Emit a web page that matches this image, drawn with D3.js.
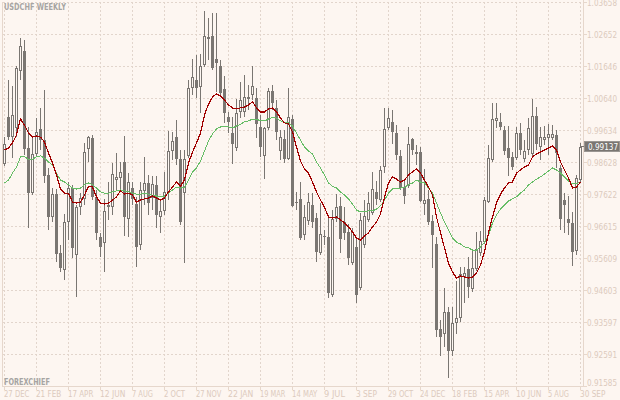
<!DOCTYPE html>
<html><head><meta charset="utf-8">
<script src="https://cdn.jsdelivr.net/npm/d3@7"></script>
<style>html,body{margin:0;padding:0;background:#fdf6f1;}svg{display:block;}</style>
</head><body>
<svg id="c" width="620" height="400"></svg>
<script>
// Weekly USDCHF candles, 27 Dec 2015 .. 30 Sep 2018
const opens = [0.9860,1.0007,0.9944,0.9973,1.0152,1.0215,0.9910,0.9768,0.9891,0.9970,
0.9935,0.9825,0.9693,0.9765,0.9580,0.9526,0.9677,0.9784,0.9574,0.9724,
0.9750,0.9907,0.9941,0.9756,0.9630,0.9611,0.9731,0.9724,0.9809,0.9816,
0.9866,0.9687,0.9784,0.9734,0.9605,0.9775,0.9800,0.9753,0.9794,0.9693,
0.9712,0.9772,0.9900,0.9944,0.9875,0.9768,0.9885,1.0099,1.0124,1.0102,
1.0171,1.0259,1.0262,1.0190,1.0168,1.0095,1.0007,0.9957,0.9910,1.0023,
1.0023,1.0064,1.0077,1.0067,0.9976,0.9885,0.9973,1.0089,1.0036,0.9900,
0.9938,0.9875,1.0001,0.9740,0.9750,0.9636,0.9680,0.9731,0.9690,0.9580,
0.9633,0.9630,0.9448,0.9687,0.9728,0.9677,0.9646,0.9548,0.9599,0.9470,
0.9605,0.9684,0.9706,0.9772,0.9746,0.9850,0.9973,0.9992,0.9957,0.9885,
0.9787,0.9790,0.9938,0.9897,0.9897,0.9734,0.9750,0.9680,0.9608,0.9341,
0.9325,0.9394,0.9272,0.9360,0.9375,0.9504,0.9530,0.9467,0.9530,0.9580,
0.9614,0.9740,0.9872,0.9995,0.9992,0.9967,0.9910,0.9882,0.9878,0.9957,
0.9875,0.9904,0.9891,1.0011,0.9913,0.9935,0.9941,0.9941,0.9951,0.9847,
0.9746,0.9687,0.9674,0.9586,0.9809];
const highs = [0.9945,1.0124,1.0105,1.0168,1.0256,1.0249,0.9976,0.9944,1.0004,1.0036,
1.0092,0.9847,0.9784,0.9781,0.9605,0.9702,0.9803,0.9794,0.9731,0.9768,
0.9926,0.9948,0.9951,0.9778,0.9643,0.9750,0.9803,0.9863,0.9894,0.9866,
0.9948,0.9831,0.9803,0.9756,0.9803,0.9882,0.9825,0.9822,0.9822,0.9746,
0.9835,0.9963,0.9960,0.9998,0.9904,0.9904,1.0124,1.0190,1.0202,1.0205,
1.0341,1.0319,1.0334,1.0334,1.0187,1.0136,1.0023,1.0007,1.0064,1.0117,
1.0139,1.0108,1.0168,1.0099,1.0014,0.9976,1.0099,1.0108,1.0061,0.9967,
0.9967,1.0099,1.0014,0.9772,0.9803,0.9731,0.9768,0.9768,0.9706,0.9737,
0.9652,0.9693,0.9715,0.9765,0.9756,0.9724,0.9671,0.9658,0.9627,0.9706,
0.9746,0.9772,0.9835,0.9806,0.9853,1.0036,1.0036,1.0029,0.9982,0.9904,
0.9809,0.9976,0.9941,0.9919,0.9913,0.9844,0.9778,0.9699,0.9630,0.9369,
0.9470,0.9410,0.9410,0.9492,0.9536,0.9536,0.9567,0.9589,0.9646,0.9649,
0.9756,0.9919,1.0051,1.0051,1.0020,0.9979,0.9979,0.9897,0.9976,0.9989,
0.9935,1.0004,1.0064,1.0039,0.9976,0.9979,0.9985,0.9982,0.9967,0.9856,
0.9768,0.9759,0.9709,0.9825,0.9926];
const lows = [0.9853,0.9935,0.9878,0.9944,1.0124,0.9888,0.9658,0.9762,0.9882,0.9904,
0.9800,0.9652,0.9677,0.9552,0.9520,0.9495,0.9621,0.9564,0.9442,0.9699,
0.9731,0.9866,0.9746,0.9621,0.9567,0.9520,0.9684,0.9699,0.9778,0.9778,
0.9633,0.9630,0.9731,0.9536,0.9589,0.9731,0.9699,0.9715,0.9658,0.9643,
0.9699,0.9746,0.9872,0.9856,0.9668,0.9548,0.9878,1.0077,1.0067,1.0020,
1.0165,1.0187,1.0155,1.0086,1.0077,0.9989,0.9957,0.9860,0.9900,1.0004,
1.0007,1.0029,1.0061,0.9941,0.9882,0.9812,0.9967,1.0029,0.9935,0.9872,
0.9863,0.9872,0.9724,0.9715,0.9621,0.9621,0.9668,0.9658,0.9552,0.9574,
0.9605,0.9438,0.9442,0.9677,0.9580,0.9621,0.9542,0.9542,0.9423,0.9464,
0.9596,0.9677,0.9699,0.9731,0.9740,0.9831,0.9967,0.9923,0.9872,0.9778,
0.9734,0.9784,0.9888,0.9856,0.9740,0.9699,0.9668,0.9533,0.9316,0.9256,
0.9284,0.9187,0.9256,0.9325,0.9363,0.9423,0.9438,0.9457,0.9523,0.9570,
0.9608,0.9737,0.9866,0.9973,0.9967,0.9888,0.9822,0.9841,0.9872,0.9888,
0.9866,0.9888,0.9885,0.9904,0.9872,0.9919,0.9888,0.9935,0.9847,0.9652,
0.9643,0.9636,0.9539,0.9574,0.9803];
const closes = [0.9923,0.9944,1.0014,1.0161,1.0231,0.9907,0.9768,0.9891,0.9960,0.9935,
0.9822,0.9693,0.9765,0.9577,0.9533,0.9677,0.9784,0.9596,0.9724,0.9753,
0.9897,0.9944,0.9756,0.9643,0.9599,0.9712,0.9724,0.9828,0.9819,0.9835,
0.9693,0.9803,0.9750,0.9599,0.9778,0.9800,0.9737,0.9797,0.9699,0.9712,
0.9772,0.9900,0.9932,0.9875,0.9677,0.9875,1.0099,1.0133,1.0099,1.0168,
1.0262,1.0253,1.0161,1.0177,1.0083,1.0020,0.9992,0.9923,1.0020,1.0061,
1.0070,1.0070,1.0105,0.9985,0.9913,0.9973,1.0089,1.0051,0.9960,0.9944,
0.9875,1.0007,0.9728,0.9737,0.9627,0.9693,0.9740,0.9677,0.9583,0.9640,
0.9630,0.9454,0.9687,0.9724,0.9624,0.9643,0.9564,0.9646,0.9448,0.9684,
0.9696,0.9737,0.9781,0.9750,0.9841,0.9970,1.0004,0.9960,0.9888,0.9784,
0.9759,0.9923,0.9904,0.9891,0.9743,0.9746,0.9677,0.9636,0.9338,0.9316,
0.9394,0.9272,0.9360,0.9375,0.9514,0.9517,0.9473,0.9533,0.9592,0.9618,
0.9746,0.9878,1.0001,1.0004,0.9976,0.9900,0.9878,0.9850,0.9957,0.9904,
0.9900,0.9973,1.0011,0.9923,0.9944,0.9944,0.9954,0.9954,0.9894,0.9687,
0.9731,0.9674,0.9583,0.9816,0.99137];
// Moving averages as drawn on the chart (fast = red, slow = green)
const maFast = [0.9904,0.9910,0.9926,0.9951,1.0001,0.9982,0.9957,0.9944,0.9948,0.9944,
0.9929,0.9894,0.9863,0.9825,0.9781,0.9768,0.9768,0.9740,0.9737,0.9740,
0.9762,0.9790,0.9787,0.9756,0.9737,0.9734,0.9737,0.9746,0.9756,0.9775,
0.9765,0.9768,0.9762,0.9740,0.9746,0.9750,0.9753,0.9759,0.9753,0.9746,
0.9753,0.9772,0.9787,0.9803,0.9790,0.9809,0.9863,0.9897,0.9926,0.9957,
1.0014,1.0048,1.0070,1.0080,1.0073,1.0061,1.0045,1.0036,1.0033,1.0036,
1.0039,1.0045,1.0055,1.0036,1.0023,1.0023,1.0033,1.0036,1.0023,1.0004,
0.9989,0.9985,0.9960,0.9913,0.9869,0.9844,0.9831,0.9803,0.9772,0.9746,
0.9724,0.9693,0.9690,0.9693,0.9684,0.9674,0.9662,0.9646,0.9627,0.9621,
0.9633,0.9643,0.9662,0.9677,0.9702,0.9756,0.9800,0.9819,0.9812,0.9803,
0.9809,0.9825,0.9835,0.9844,0.9831,0.9809,0.9787,0.9762,0.9693,0.9643,
0.9596,0.9548,0.9520,0.9501,0.9508,0.9504,0.9501,0.9504,0.9517,0.9542,
0.9583,0.9643,0.9693,0.9737,0.9765,0.9784,0.9800,0.9803,0.9831,0.9841,
0.9850,0.9856,0.9882,0.9891,0.9897,0.9904,0.9910,0.9916,0.9904,0.9866,
0.9841,0.9816,0.9784,0.9787,0.9803];
const maSlow = [0.9800,0.9809,0.9831,0.9850,0.9882,0.9882,0.9875,0.9875,0.9882,0.9885,
0.9878,0.9866,0.9856,0.9831,0.9809,0.9803,0.9794,0.9784,0.9781,0.9784,
0.9794,0.9800,0.9794,0.9784,0.9772,0.9768,0.9768,0.9772,0.9775,0.9778,
0.9775,0.9772,0.9768,0.9765,0.9765,0.9768,0.9765,0.9762,0.9759,0.9756,
0.9759,0.9768,0.9778,0.9787,0.9784,0.9787,0.9809,0.9835,0.9847,0.9869,
0.9900,0.9932,0.9954,0.9970,0.9976,0.9976,0.9976,0.9973,0.9979,0.9985,
0.9992,0.9995,1.0001,1.0001,0.9995,0.9995,1.0001,1.0007,1.0004,0.9995,
0.9989,0.9989,0.9979,0.9957,0.9935,0.9913,0.9900,0.9891,0.9866,0.9847,
0.9825,0.9800,0.9790,0.9784,0.9772,0.9762,0.9750,0.9734,0.9715,0.9709,
0.9709,0.9712,0.9712,0.9718,0.9728,0.9746,0.9768,0.9781,0.9784,0.9784,
0.9787,0.9794,0.9800,0.9809,0.9803,0.9800,0.9784,0.9768,0.9737,0.9706,
0.9677,0.9652,0.9627,0.9614,0.9608,0.9599,0.9596,0.9589,0.9589,0.9599,
0.9614,0.9636,0.9674,0.9699,0.9718,0.9731,0.9743,0.9750,0.9756,0.9768,
0.9778,0.9794,0.9803,0.9812,0.9819,0.9828,0.9838,0.9847,0.9841,0.9831,
0.9819,0.9806,0.9797,0.9797,0.9803];
const xTickLabels = ["27 DEC","21 FEB","17 APR","12 JUN","7 AUG","2 OCT","27 NOV","22 JAN","19 MAR","14 MAY","9 JUL","3 SEP","29 OCT","24 DEC","18 FEB","15 APR","10 JUN","5 AUG","30 SEP"];
const xTickStep = 8;
const yTickValues = [1.03658,1.02652,1.01646,1.00640,0.99634,0.98628,0.97622,0.96615,0.95609,0.94603,0.93597,0.92591,0.91585];
const lastPrice = 0.99137;
const chartTitle = "USDCHF WEEKLY";
const brand = "FOREXCHIEF";

const BG = "#fdf6f1", GRID = "#e2d5cc", AXIS = "#e6d7cc", LABEL = "#dccabd", CANDLE = "#7a7672";
const svg = d3.select("#c").attr("shape-rendering", "crispEdges");
svg.append("rect").attr("width", 620).attr("height", 400).attr("fill", BG);

const n = closes.length;
const x = d3.scaleLinear().domain([0, n - 1]).range([4, 580]);
const y = d3.scaleLinear().domain([0.91585, 1.03658]).range([387, 3]);
const AX = 583, AY = 386;

// grid
const g = svg.append("g");
g.selectAll(".hg").data(yTickValues.slice(0, -1)).join("line")
  .attr("x1", 3).attr("x2", AX).attr("y1", d => Math.round(y(d)) - 0.5).attr("y2", d => Math.round(y(d)) - 0.5)
  .attr("stroke", GRID).attr("stroke-dasharray", "2,2");
const xTickIdx = xTickLabels.map((_, i) => i * xTickStep);
g.selectAll(".vg").data(xTickIdx).join("line")
  .attr("x1", d => Math.round(x(d)) + 0.5).attr("x2", d => Math.round(x(d)) + 0.5)
  .attr("y1", 2).attr("y2", AY)
  .attr("stroke", GRID).attr("stroke-dasharray", "2,2");

// axes
svg.append("line").attr("x1", AX + 0.5).attr("x2", AX + 0.5).attr("y1", 0).attr("y2", AY + 1).attr("stroke", AXIS);
svg.append("line").attr("x1", 2).attr("x2", AX + 1).attr("y1", AY + 0.5).attr("y2", AY + 0.5).attr("stroke", AXIS);
svg.append("line").attr("x1", 2.5).attr("x2", 2.5).attr("y1", 2).attr("y2", AY).attr("stroke", AXIS);
svg.selectAll(".yt").data(yTickValues).join("line")
  .attr("x1", AX + 1).attr("x2", AX + 4)
  .attr("y1", d => Math.round(y(d)) - 0.5).attr("y2", d => Math.round(y(d)) - 0.5).attr("stroke", AXIS);
svg.selectAll(".xt").data(xTickIdx).join("line")
  .attr("x1", d => Math.round(x(d)) + 0.5).attr("x2", d => Math.round(x(d)) + 0.5)
  .attr("y1", AY + 1).attr("y2", AY + 4).attr("stroke", AXIS);

// labels
const font = "'DejaVu Sans', sans-serif";
svg.selectAll(".yl").data(yTickValues).join("text")
  .attr("x", 587).attr("y", (d, i) => Math.round(y(d)) + (i === yTickValues.length - 1 ? -1 : 2.5))
  .attr("font-family", font).attr("font-size", 8).attr("fill", LABEL)
  .attr("textLength", 30).attr("lengthAdjust", "spacingAndGlyphs")
  .text(d => d.toFixed(5));
svg.selectAll(".xl").data(xTickLabels).join("text")
  .attr("x", (d, i) => Math.round(x(i * xTickStep))).attr("y", 397)
  .attr("font-family", font).attr("font-size", 8).attr("fill", LABEL)
  .attr("textLength", d => d.length * 4.3 - 0.5).attr("lengthAdjust", "spacingAndGlyphs")
  .text(d => d);

// candles
const data = closes.map((c, i) => ({ i, o: opens[i], h: highs[i], l: lows[i], c }));
const cg = svg.append("g");
data.forEach(d => {
  const cx = Math.round(x(d.i));
  const top = Math.round(y(Math.max(d.o, d.c)));
  const bot = Math.max(top + 1, Math.round(y(Math.min(d.o, d.c))));
  const yh = Math.round(y(d.h)), yl = Math.round(y(d.l));
  const up = d.c >= d.o;
  if (up) {
    cg.append("line").attr("x1", cx + 0.5).attr("x2", cx + 0.5).attr("y1", yh).attr("y2", top).attr("stroke", CANDLE);
    cg.append("line").attr("x1", cx + 0.5).attr("x2", cx + 0.5).attr("y1", bot).attr("y2", yl).attr("stroke", CANDLE);
    cg.append("rect").attr("x", cx - 0.5).attr("y", top + 0.5).attr("width", 2).attr("height", Math.max(1, bot - top - 1))
      .attr("fill", BG).attr("stroke", CANDLE);
  } else {
    cg.append("line").attr("x1", cx + 0.5).attr("x2", cx + 0.5).attr("y1", yh).attr("y2", yl).attr("stroke", CANDLE);
    cg.append("rect").attr("x", cx - 1).attr("y", top).attr("width", 3).attr("height", bot - top).attr("fill", CANDLE);
  }
});

// moving averages
const line = arr => d3.line().x((d, i) => x(i) + 0.5).y(d => y(d))(arr);
svg.append("path").attr("d", line(maSlow)).attr("fill", "none").attr("stroke", "#66bd66").attr("stroke-width", 1);
svg.append("path").attr("d", line(maFast)).attr("fill", "none").attr("stroke", "#a00000").attr("stroke-width", 1.2);

// last price marker
const yl = Math.round(y(lastPrice));
svg.append("line").attr("x1", 580).attr("x2", 585).attr("y1", yl - 0.5).attr("y2", yl - 0.5).attr("stroke", CANDLE);
svg.append("rect").attr("x", 584.5).attr("y", yl - 5.5).attr("width", 35).attr("height", 10)
  .attr("fill", "#7a7672").attr("stroke", "#9a9692");
svg.append("text").attr("x", 588).attr("y", yl + 2.5).attr("font-family", font).attr("font-size", 8)
  .attr("fill", "#ffffff").attr("textLength", 30).attr("lengthAdjust", "spacingAndGlyphs").text(lastPrice.toFixed(5));

// title & watermark
svg.append("text").attr("x", 4).attr("y", 9.5).attr("font-family", font).attr("font-size", 8).attr("font-weight", "bold")
  .attr("fill", "#a6a4a2").attr("textLength", 62).attr("lengthAdjust", "spacingAndGlyphs").text(chartTitle);
svg.append("text").attr("x", 4).attr("y", 384.5).attr("font-family", font).attr("font-size", 8).attr("font-weight", "bold")
  .attr("fill", "#a6a4a2").attr("textLength", 46).attr("lengthAdjust", "spacingAndGlyphs").text(brand);
</script>
</body></html>
